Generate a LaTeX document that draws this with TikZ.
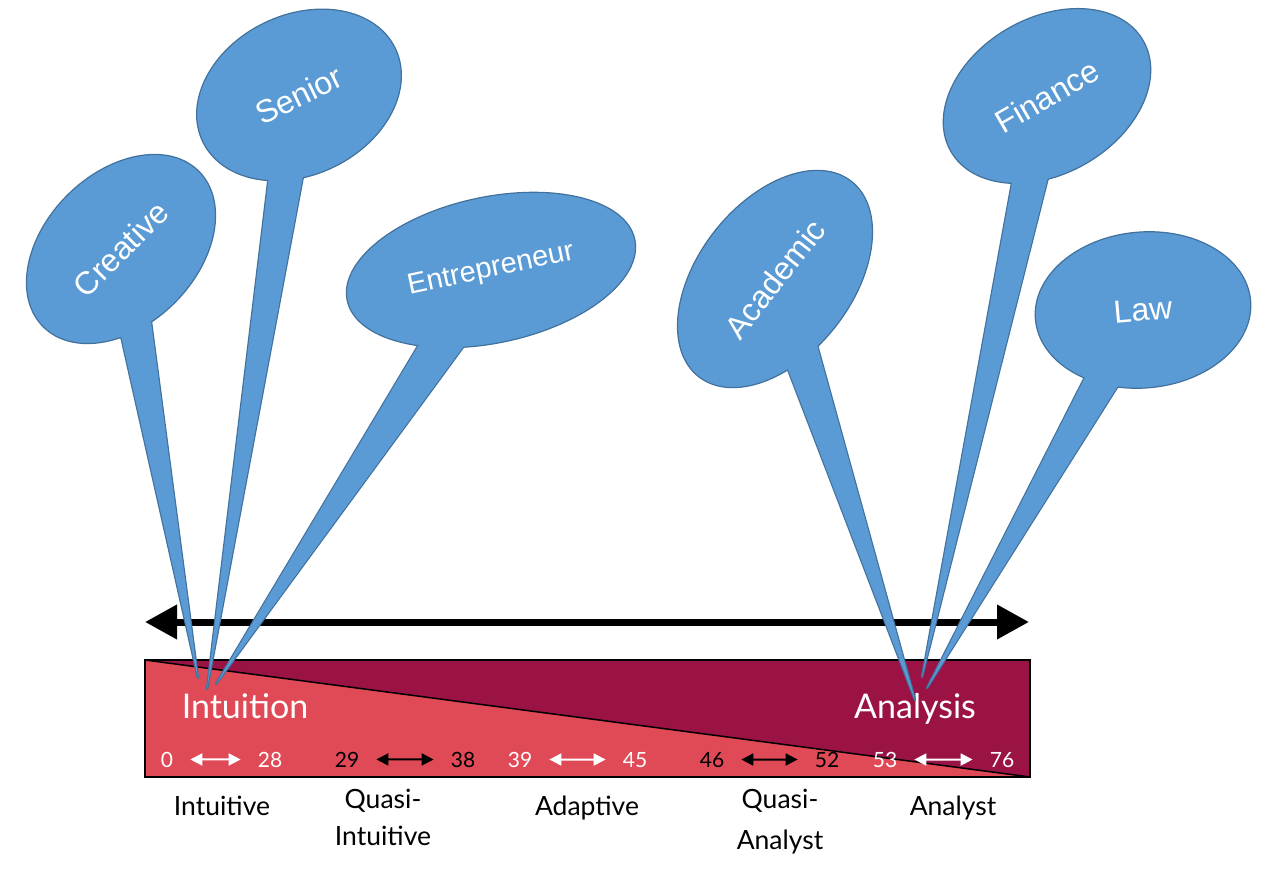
\documentclass[tikz,border=0pt]{standalone}
\usepackage{fontspec}
\usepackage{tikz}
\usetikzlibrary{arrows.meta,calc,shapes.geometric}

\newfontfamily\bubblefont{Liberation Sans}
\newfontfamily\barfont{Lato}

\definecolor{bubblefill}{RGB}{91,155,213}
\definecolor{bubbleedge}{RGB}{65,113,156}
\definecolor{intuitred}{RGB}{224,73,86}
\definecolor{analysisred}{RGB}{155,18,68}

\pgfdeclarelayer{back}
\pgfdeclarelayer{front}
\pgfsetlayers{back,main,front}

\begin{document}
\begin{tikzpicture}[x=1pt,y=-1pt,
    bubble/.style={ellipse,fill=bubblefill,draw=bubbleedge,line width=1.2pt,inner sep=0pt,text=white,font=\bubblefont\fontsize{32}{36}\selectfont},
    tailedge/.style={fill=bubblefill,draw=bubbleedge,line width=2.4pt,line join=round},
    tailfill/.style={fill=bubblefill},
    rangenum/.style={anchor=base,inner xsep=17pt,font=\barfont\fontsize{21}{24}\selectfont},
    rangearrow/.style={{Triangle[length=12pt,width=12pt]}-{Triangle[length=12pt,width=12pt]},line width=2pt},
    stylename/.style={align=center,font=\barfont\fontsize{26.5}{37}\selectfont}]
        \useasboundingbox (0,0) rectangle (1280,885);

        \begin{pgfonlayer}{back}
        \coordinate (barNW) at (145,660);
        \coordinate (barNE) at (1030,660);
        \coordinate (barSE) at (1030,777);

        \fill[intuitred] (barNW) rectangle (barSE);
        \fill[analysisred] (barNW) -- (barNE) -- (barSE) -- cycle;
        \draw[line width=1.5pt] (barNW) -- (barSE);
        \draw[line width=2pt] (barNW) rectangle (barSE);

        \coordinate (axisL) at (145,622);
        \coordinate (axisR) at (1029,622);
        \draw[line width=7pt,{Triangle[length=32pt,width=33pt]}-{Triangle[length=32pt,width=33pt]}] (axisL) -- (axisR);

        \node[anchor=base,text=white,font=\barfont\fontsize{34}{40}\selectfont] (intuition) at (245,718) {Intuition};
        \node[anchor=base,text=white,font=\barfont\fontsize{34}{40}\selectfont] (analysis) at (915,718) {Analysis};

        %############################################

        \node[rangenum,text=white] (r0) at (167,767) {0};
        \node[rangenum,text=white] (r28) at (270,767) {28};
        \node[rangenum] (r29) at (347,767) {29};
        \node[rangenum] (r38) at (463,767) {38};
        \node[rangenum,text=white] (r39) at (520,767) {39};
        \node[rangenum,text=white] (r45) at (635,767) {45};
        \node[rangenum] (r46) at (712,767) {46};
        \node[rangenum] (r52) at (827,767) {52};
        \node[rangenum,text=white] (r53) at (885,767) {53};
        \node[rangenum,text=white] (r76) at (1002,767) {76};

        \draw[rangearrow,white] (r0) -- (r28);
        \draw[rangearrow] (r29) -- (r38);
        \draw[rangearrow,white] (r39) -- (r45);
        \draw[rangearrow] (r46) -- (r52);
        \draw[rangearrow,white] (r53) -- (r76);

        \node[stylename,anchor=base] (intuitive) at (222,815) {Intuitive};
        \node[stylename] (quasiint) at (383,817) {Quasi-\\Intuitive};
        \node[stylename,anchor=base] (adaptive) at (587,815) {Adaptive};
        \node[stylename,font=\barfont\fontsize{26.5}{41}\selectfont] (quasiana) at (780,822) {Quasi-\\Analyst};
        \node[stylename,anchor=base] (analyst) at (953,815) {Analyst};
        \end{pgfonlayer}

        %############################################

        \coordinate (tipCreative) at (198,678);
        \coordinate (tipSenior) at (207,689);
        \coordinate (tipEntrepreneur) at (216,684);
        \coordinate (tipAcademic) at (915,700);
        \coordinate (tipFinance) at (922,677);
        \coordinate (tipLaw) at (927,688);

        \node[bubble,rotate=45,minimum width=220pt,minimum height=152pt] (creative) at (121,249) {Creative};
        \node[bubble,rotate=26,minimum width=214pt,minimum height=160pt] (senior) at (299,95) {Senior};
        \node[bubble,rotate=12,minimum width=294pt,minimum height=146pt,font=\bubblefont\fontsize{29}{33}\selectfont] (entrepreneur) at (491,270) {Entrepreneur};
        \node[bubble,rotate=52,minimum width=248pt,minimum height=154pt] (academic) at (775,279) {Academic};
        \node[bubble,rotate=30,minimum width=222pt,minimum height=156pt] (finance) at (1047,96) {Finance};
        \node[bubble,rotate=5,minimum width=216pt,minimum height=156pt] (law) at (1143,310) {Law};

        \begin{pgfonlayer}{back}
        \filldraw[tailedge] ($(creative.center)!.9!(creative.-136)$) -- (tipCreative) -- ($(creative.center)!.9!(creative.-111)$) -- cycle;
        \filldraw[tailedge] ($(senior.center)!.9!(senior.-137)$) -- (tipSenior) -- ($(senior.center)!.9!(senior.-112)$) -- cycle;
        \filldraw[tailedge] ($(entrepreneur.center)!.9!(entrepreneur.-147)$) -- (tipEntrepreneur) -- ($(entrepreneur.center)!.9!(entrepreneur.-120)$) -- cycle;
        \filldraw[tailedge] ($(academic.center)!.9!(academic.-135)$) -- (tipAcademic) -- ($(academic.center)!.9!(academic.-108)$) -- cycle;
        \filldraw[tailedge] ($(finance.center)!.9!(finance.-143)$) -- (tipFinance) -- ($(finance.center)!.9!(finance.-118)$) -- cycle;
        \filldraw[tailedge] ($(law.center)!.9!(law.-137)$) -- (tipLaw) -- ($(law.center)!.9!(law.-112)$) -- cycle;
        \end{pgfonlayer}

        \begin{pgfonlayer}{front}
        \fill[tailfill] ($(creative.center)!.9!(creative.-136)$) -- (tipCreative) -- ($(creative.center)!.9!(creative.-111)$) -- cycle;
        \fill[tailfill] ($(senior.center)!.9!(senior.-137)$) -- (tipSenior) -- ($(senior.center)!.9!(senior.-112)$) -- cycle;
        \fill[tailfill] ($(entrepreneur.center)!.9!(entrepreneur.-147)$) -- (tipEntrepreneur) -- ($(entrepreneur.center)!.9!(entrepreneur.-120)$) -- cycle;
        \fill[tailfill] ($(academic.center)!.9!(academic.-135)$) -- (tipAcademic) -- ($(academic.center)!.9!(academic.-108)$) -- cycle;
        \fill[tailfill] ($(finance.center)!.9!(finance.-143)$) -- (tipFinance) -- ($(finance.center)!.9!(finance.-118)$) -- cycle;
        \fill[tailfill] ($(law.center)!.9!(law.-137)$) -- (tipLaw) -- ($(law.center)!.9!(law.-112)$) -- cycle;
        \end{pgfonlayer}
    \end{tikzpicture}
\end{document}
